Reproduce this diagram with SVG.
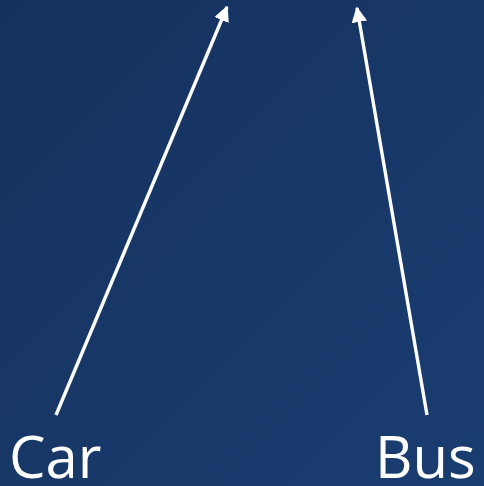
<svg xmlns="http://www.w3.org/2000/svg" width="484" height="486" viewBox="0 0 484 486">
<defs>
<linearGradient id="bg" x1="0" y1="0" x2="1" y2="1">
<stop offset="0" stop-color="#15325f"/>
<stop offset="1" stop-color="#1a3d70"/>
</linearGradient>
<marker id="ah" viewBox="0 0 10 10" refX="9" refY="5" markerWidth="4.6" markerHeight="4.6" orient="auto" markerUnits="strokeWidth">
<path d="M0,0 L10,5 L0,10 z" fill="#ffffff"/>
</marker>
<style>
.lbl{font-family:"Open Sans","Noto Sans",sans-serif;font-size:58px;fill:#ffffff}
.edge{stroke:#ffffff;stroke-width:3.4;fill:none;marker-end:url(#ah)}
</style>
</defs>
<rect width="484" height="486" fill="url(#bg)"/>
<g id="connectors">
<line class="edge" x1="56" y1="415" x2="227" y2="7"/>
<line class="edge" x1="427" y1="415" x2="357" y2="8"/>
</g>
<g id="node-car"><text class="lbl" x="9" y="478">Car</text></g>
<g id="node-bus"><text class="lbl" x="375" y="478">Bus</text></g>
</svg>
